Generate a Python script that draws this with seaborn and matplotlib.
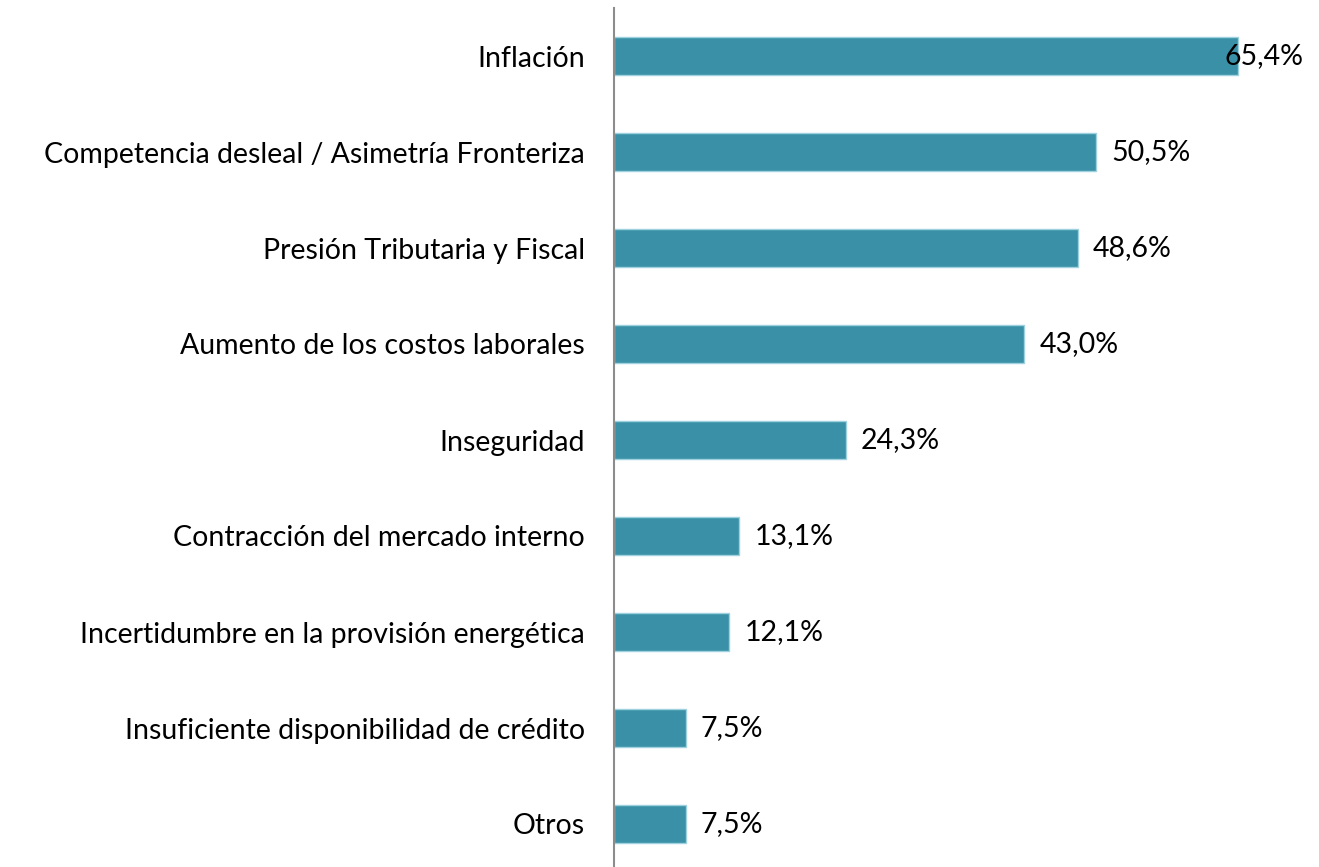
import seaborn as sns
import pandas as pd
import matplotlib.pyplot as plt

categorias = [
    'Inflación',
    'Competencia desleal / Asimetría Fronteriza',
    'Presión Tributaria y Fiscal',
    'Aumento de los costos laborales',
    'Inseguridad',
    'Contracción del mercado interno',
    'Incertidumbre en la provisión energética',
    'Insuficiente disponibilidad de crédito',
    'Otros',
]
valores = [65.4, 50.5, 48.6, 43.0, 24.3, 13.1, 12.1, 7.5, 7.5]
etiquetas = ['65,4%', '50,5%', '48,6%', '43,0%', '24,3%', '13,1%', '12,1%', '7,5%', '7,5%']

df = pd.DataFrame({'categoria': categorias, 'valor': valores})

sns.set_style('white')
plt.rcParams['font.family'] = ['Lato', 'DejaVu Sans']

fig = plt.figure(figsize=(13.19, 8.67), dpi=100)
ax = fig.add_axes([614 / 1319, -5 / 867, 1 - 614 / 1319, 864 / 867])

sns.barplot(data=df, x='valor', y='categoria', color='#3A91A7', saturation=1,
            width=0.4, edgecolor='#9fd0de', linewidth=1, ax=ax)

ax.set_xlim(0, 73.9)
ax.set_ylim(8.5, -0.5)
ax.set_xlabel('')
ax.set_ylabel('')
ax.set_xticks([])
for s in ['top', 'right', 'bottom']:
    ax.spines[s].set_visible(False)
ax.spines['left'].set_color('#8c8c8c')
ax.spines['left'].set_linewidth(1.5)
ax.tick_params(axis='y', length=0, pad=21, labelsize=20.5, labelcolor='black')

# etiquetas de valor; la primera queda dentro del área del gráfico
limite = 1304 / 1319
trans = ax.get_yaxis_transform().__class__(fig.transFigure, ax.transData)
for i, (v, t) in enumerate(zip(valores, etiquetas)):
    txt = ax.annotate(t, xy=(v, i), xytext=(11, 0), textcoords='offset points',
                      ha='left', va='center', fontsize=20.5, color='black')
    fig.canvas.draw()
    bb = txt.get_window_extent()
    if bb.x1 > limite * fig.bbox.width:
        txt.remove()
        ax.text(limite, i, t, transform=trans,
                ha='right', va='center', fontsize=20.5, color='black')

plt.savefig('out.png', dpi=100)
